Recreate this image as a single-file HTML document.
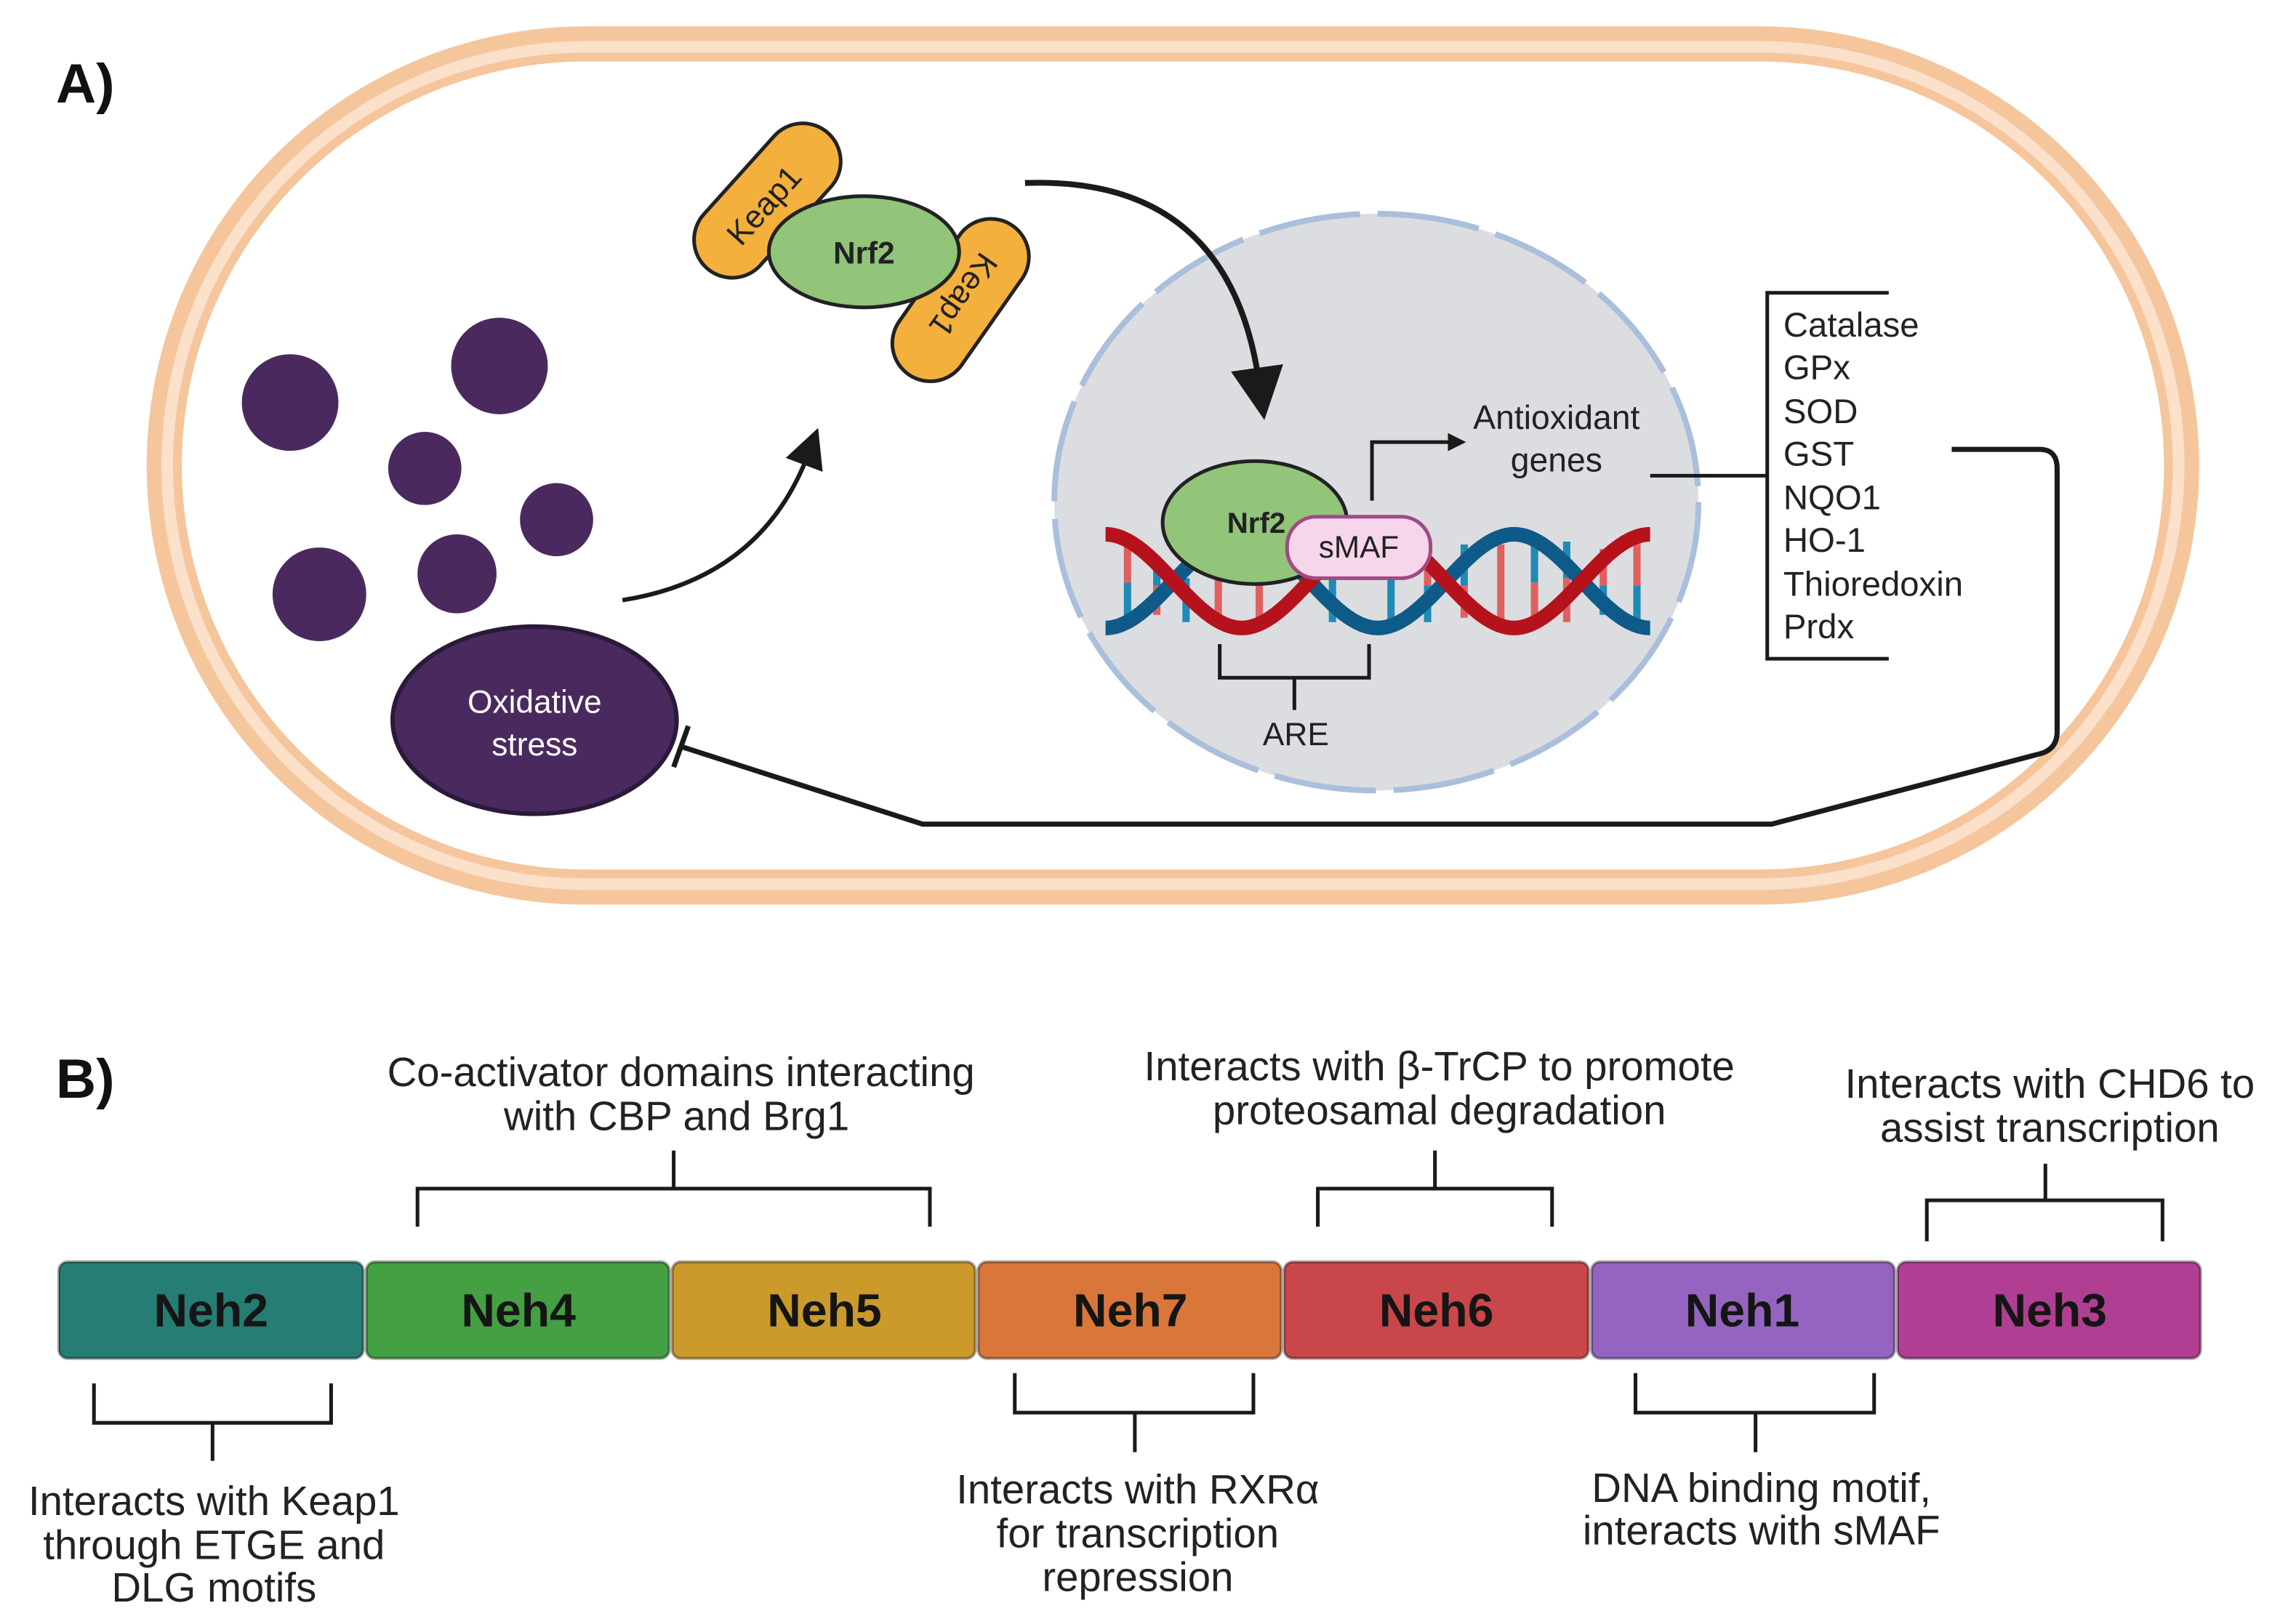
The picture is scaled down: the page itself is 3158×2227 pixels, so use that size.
<!DOCTYPE html>
<html><head><meta charset="utf-8"><style>html,body{margin:0;padding:0;background:#fff}svg{display:block}text{font-family:"Liberation Sans",sans-serif;fill:#222}</style></head><body>
<svg width="3158" height="2227" viewBox="0 0 1568 1106" xmlns="http://www.w3.org/2000/svg">
<defs>
<marker id="ah" viewBox="0 0 10 10" refX="5" refY="5" markerWidth="5" markerHeight="5" orient="auto"><path d="M0,0L10,5L0,10z" fill="#1a1a1a"/></marker>
<marker id="ahb" viewBox="0 0 10 10" refX="3" refY="5" markerWidth="9" markerHeight="9" orient="auto"><path d="M0,0L10,5L0,10z" fill="#1a1a1a"/></marker>
</defs>
<text x="38" y="70" font-size="38" font-weight="bold" style="fill:#111">A)</text>
<text x="38" y="750" font-size="38" font-weight="bold" style="fill:#111">B)</text>
<rect x="100" y="18" width="1402" height="600" rx="300" fill="#f5c59c"/>
<rect x="110" y="28" width="1382" height="580" rx="290" fill="#fbe0ca"/>
<rect x="118" y="36" width="1366" height="564" rx="282" fill="#f5c59c"/>
<rect x="124" y="42" width="1354" height="552" rx="276" fill="#fff"/>
<ellipse cx="940" cy="343" rx="220" ry="197" fill="#dcdde1" stroke="#a9bfdc" stroke-width="4" stroke-dasharray="70 12"/>
<g fill="#4a2a5e">
<circle cx="198" cy="275" r="33"/><circle cx="341" cy="250" r="33"/><circle cx="290" cy="320" r="25"/><circle cx="380" cy="355" r="25"/><circle cx="218" cy="406" r="32"/><circle cx="312" cy="392" r="27"/>
</g>
<ellipse cx="365" cy="492" rx="97" ry="64" fill="#4a2a5e" stroke="#2a1a3a" stroke-width="3"/>
<text x="365" y="487" font-size="22" text-anchor="middle" style="fill:#fff">Oxidative</text>
<text x="365" y="516" font-size="22" text-anchor="middle" style="fill:#fff">stress</text>
<g transform="translate(524,137) rotate(-48)"><rect x="-62" y="-26" width="124" height="52" rx="26" fill="#f3b03c" stroke="#222" stroke-width="2.5"/><text x="-4" y="8" font-size="22" text-anchor="middle">Keap1</text></g>
<g transform="translate(656,205) rotate(125)"><rect x="-62" y="-26" width="124" height="52" rx="26" fill="#f3b03c" stroke="#222" stroke-width="2.5"/><text x="-4" y="8" font-size="22" text-anchor="middle">Keap1</text></g>
<ellipse cx="590" cy="172" rx="65" ry="38" fill="#92c47a" stroke="#222" stroke-width="2.5"/>
<text x="590" y="180" font-size="21" font-weight="bold" text-anchor="middle">Nrf2</text>
<path d="M425,410 Q520,395 552,310" fill="none" stroke="#1a1a1a" stroke-width="3" marker-end="url(#ahb)"/>
<path d="M700,125 Q840,120 860,262" fill="none" stroke="#1a1a1a" stroke-width="4" marker-end="url(#ahb)"/>
<g stroke-width="5">
<line x1="770" y1="372" x2="770" y2="398" stroke="#e06060"/><line x1="770" y1="398" x2="770" y2="425" stroke="#1d8bb5"/>
<line x1="790" y1="380" x2="790" y2="400" stroke="#1d8bb5"/><line x1="790" y1="400" x2="790" y2="420" stroke="#e06060"/>
<line x1="810" y1="395" x2="810" y2="425" stroke="#1d8bb5"/>
<line x1="832" y1="380" x2="832" y2="428" stroke="#e06060"/>
<line x1="860" y1="390" x2="860" y2="428" stroke="#e06060"/>
<line x1="910" y1="390" x2="910" y2="425" stroke="#1d8bb5"/>
<line x1="950" y1="395" x2="950" y2="428" stroke="#1d8bb5"/>
<line x1="975" y1="375" x2="975" y2="400" stroke="#e06060"/><line x1="975" y1="400" x2="975" y2="425" stroke="#1d8bb5"/>
<line x1="1000" y1="372" x2="1000" y2="400" stroke="#1d8bb5"/><line x1="1000" y1="400" x2="1000" y2="422" stroke="#e06060"/>
<line x1="1025" y1="372" x2="1025" y2="428" stroke="#e06060"/>
<line x1="1048" y1="368" x2="1048" y2="398" stroke="#1d8bb5"/><line x1="1048" y1="398" x2="1048" y2="428" stroke="#e06060"/>
<line x1="1070" y1="370" x2="1070" y2="395" stroke="#1d8bb5"/><line x1="1070" y1="395" x2="1070" y2="425" stroke="#e06060"/>
<line x1="1095" y1="375" x2="1095" y2="400" stroke="#e06060"/><line x1="1095" y1="400" x2="1095" y2="420" stroke="#1d8bb5"/>
<line x1="1118" y1="368" x2="1118" y2="400" stroke="#e06060"/><line x1="1118" y1="400" x2="1118" y2="425" stroke="#1d8bb5"/>
</g>
<path d="M755,429 C788,429 815,365 848,365 C881,365 908,429 941,429 C974,429 1001,365 1034,365 C1067,365 1094,429 1127,429" fill="none" stroke="#0e5a88" stroke-width="10"/>
<path d="M755,365 C788,365 815,429 848,429 C881,429 908,365 941,365 C974,365 1001,429 1034,429 C1067,429 1094,365 1127,365" fill="none" stroke="#b5121b" stroke-width="10"/>
<ellipse cx="857" cy="357" rx="63" ry="42" fill="#92c47a" stroke="#222" stroke-width="2.5"/>
<text x="858" y="364" font-size="20" font-weight="bold" text-anchor="middle">Nrf2</text>
<rect x="879" y="353" width="98" height="42" rx="20" fill="#f7d5ea" stroke="#a04a85" stroke-width="2.5"/>
<text x="928" y="381" font-size="21" text-anchor="middle">sMAF</text>
<path d="M937,342 V302 H995" fill="none" stroke="#1a1a1a" stroke-width="2.5" marker-end="url(#ah)"/>
<text x="1063" y="293" font-size="23" text-anchor="middle">Antioxidant</text>
<text x="1063" y="322" font-size="23" text-anchor="middle">genes</text>
<path d="M833,440 V463 H935 V440 M884,463 V485" fill="none" stroke="#1a1a1a" stroke-width="2.5"/>
<text x="885" y="509" font-size="22" text-anchor="middle">ARE</text>
<path d="M1127,325 H1207 M1290,200 H1207 V450 H1290" fill="none" stroke="#1a1a1a" stroke-width="2.5"/>
<g font-size="23.5"><text x="1218" y="230">Catalase</text><text x="1218" y="259">GPx</text><text x="1218" y="289">SOD</text><text x="1218" y="318">GST</text><text x="1218" y="348">NQO1</text><text x="1218" y="377">HO-1</text><text x="1218" y="407">Thioredoxin</text><text x="1218" y="436">Prdx</text></g>
<path d="M1333,307 H1393 Q1405,307 1405,320 V500 Q1405,512 1393,515 L1210,563 H630 L465,510" fill="none" stroke="#1a1a1a" stroke-width="3.5"/>
<line x1="460" y1="524" x2="470" y2="496" stroke="#1a1a1a" stroke-width="3.5"/>
<g stroke="rgba(0,0,0,0.35)" stroke-width="2">
<rect x="40" y="862" width="208" height="66" rx="6" fill="#267d73"/>
<rect x="250" y="862" width="207" height="66" rx="6" fill="#44a042"/>
<rect x="459" y="862" width="207" height="66" rx="6" fill="#cc9a2a"/>
<rect x="668" y="862" width="207" height="66" rx="6" fill="#d9773a"/>
<rect x="877" y="862" width="208" height="66" rx="6" fill="#c9474a"/>
<rect x="1087" y="862" width="207" height="66" rx="6" fill="#9564c0"/>
<rect x="1296" y="862" width="207" height="66" rx="6" fill="#b03f93"/>
</g>
<g font-size="32" font-weight="bold" text-anchor="middle">
<text x="144" y="906" style="fill:#151515">Neh2</text><text x="354" y="906" style="fill:#151515">Neh4</text><text x="563" y="906" style="fill:#151515">Neh5</text><text x="772" y="906" style="fill:#151515">Neh7</text><text x="981" y="906" style="fill:#151515">Neh6</text><text x="1190" y="906" style="fill:#151515">Neh1</text><text x="1400" y="906" style="fill:#151515">Neh3</text>
</g>
<g fill="none" stroke="#1a1a1a" stroke-width="2.5">
<path d="M285,838 V812 H635 V838 M460,812 V786"/>
<path d="M900,838 V812 H1060 V838 M980,812 V786"/>
<path d="M1316,848 V820 H1477 V848 M1397,820 V795"/>
<path d="M64,945 V972 H226 V945 M145,972 V998"/>
<path d="M693,938 V965 H856 V938 M775,965 V992"/>
<path d="M1117,938 V965 H1280 V938 M1199,965 V992"/>
</g>
<g font-size="28" text-anchor="middle">
<text x="465" y="742">Co-activator domains interacting</text><text x="462" y="772">with CBP and Brg1</text>
<text x="983" y="738">Interacts with β-TrCP to promote</text><text x="983" y="768">proteosamal degradation</text>
<text x="1400" y="750">Interacts with CHD6  to</text><text x="1400" y="780">assist transcription</text>
<text x="146" y="1035">Interacts with Keap1</text><text x="146" y="1065">through ETGE and</text><text x="146" y="1094">DLG motifs</text>
<text x="777" y="1027">Interacts with  RXRα</text><text x="777" y="1057">for transcription</text><text x="777" y="1087">repression</text>
<text x="1203" y="1026">DNA binding motif,</text><text x="1203" y="1055">interacts with sMAF</text>
</g>
</svg>
</body></html>
